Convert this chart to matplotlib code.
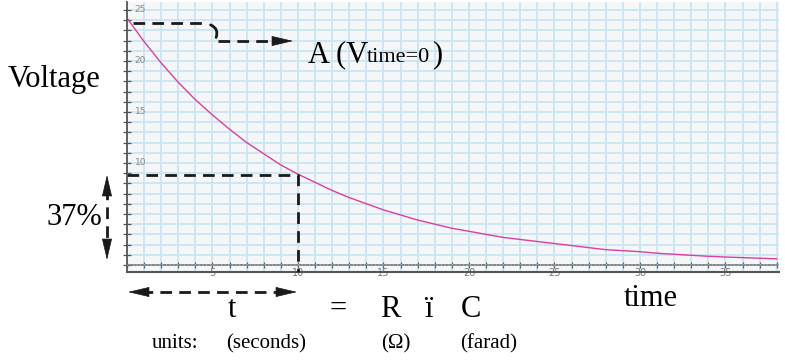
import matplotlib.pyplot as plt
from matplotlib.lines import Line2D
from matplotlib.patches import FancyArrowPatch
import numpy as np

W, H = 785, 360

# voltage, one value per second
time_s = np.arange(0, 39)
voltage = [24.2, 21.9, 19.8, 17.9, 16.2, 14.7, 13.3, 12.0, 10.9, 9.8,
           8.9, 8.1, 7.3, 6.6, 6.0, 5.4, 4.9, 4.4, 4.0, 3.6,
           3.3, 3.0, 2.7, 2.5, 2.3, 2.1, 1.9, 1.7, 1.5, 1.4,
           1.3, 1.15, 1.05, 0.95, 0.85, 0.78, 0.72, 0.66, 0.6]
tau = 10
v_tau = 8.8
x_labels = [5, 10, 15, 20, 25, 30, 35]
y_labels = [10, 15, 20, 25]

GRID = '#cae5f2'
BG = '#f4f6f8'
PINK = '#d8409f'
INK = '#1a1a1a'
DASH = (0, (4.2, 2.6))

plt.rcParams['font.family'] = ['Liberation Serif', 'DejaVu Serif']


def fx(px):
    return px / W


def fy(py):
    return 1 - py / H


fig = plt.figure(figsize=(W / 100, H / 100), dpi=100)
ax = fig.add_axes([fx(127), fy(272), 652 / W, 270 / H])
ax.set_facecolor(BG)
ax.set_xlim(0, 38.13)
ax.set_ylim(-0.69, 25.78)
ax.set_xticks(np.arange(0, 39))
ax.set_xticklabels([str(v) if v in x_labels else '' for v in range(39)])
ax.set_yticks(np.arange(0, 26))
ax.set_yticklabels([])
ax.grid(True, color=GRID, lw=1.3)
ax.set_axisbelow(True)
for s in ['top', 'right']:
    ax.spines[s].set_visible(False)
ax.spines['left'].set_color('#555')
ax.spines['left'].set_linewidth(1.3)
ax.spines['bottom'].set_position(('data', 0))
ax.spines['bottom'].set_linestyle((0, (1, 1.2)))
ax.spines['bottom'].set_color('#777')
ax.spines['bottom'].set_linewidth(1.2)
ax.tick_params(axis='x', direction='inout', length=4, width=0.9, color='#666',
               labelsize=7, labelcolor='#777', pad=0)
ax.tick_params(axis='y', direction='inout', length=6, width=0.9, color='#555')
for lbl in ax.get_xticklabels():
    lbl.set_family('DejaVu Sans')
for v in y_labels:
    ax.text(0.45, v, str(v), fontsize=6.5, color='#888', family='DejaVu Sans',
            va='center', ha='left')
ymin = ax.get_ylim()[0]
ax.axhline(ymin, color='#555', lw=1.5, clip_on=False)

ax.plot(time_s, voltage, color=PINK, lw=1.0)

# time constant marker
ax.plot([0, tau, tau], [v_tau, v_tau, ymin], color=INK, lw=2.0, ls=DASH,
        clip_on=False)


def dline(x0, y0, x1, y1):
    fig.add_artist(Line2D([fx(x0), fx(x1)], [fy(y0), fy(y1)], color=INK,
                          lw=2.0, ls=DASH))


def head(tip, tail):
    fig.add_artist(FancyArrowPatch((fx(tail[0]), fy(tail[1])),
                                   (fx(tip[0]), fy(tip[1])),
                                   transform=fig.transFigure,
                                   arrowstyle='-|>,head_length=1.4,head_width=0.33',
                                   mutation_scale=10, color=INK, lw=0.5,
                                   shrinkA=0, shrinkB=0))


# A (V time=0) pointer
dline(133, 23, 208, 23)
fig.add_artist(FancyArrowPatch((fx(208), fy(24)), (fx(215), fy(40)),
                               transform=fig.transFigure, arrowstyle='-',
                               connectionstyle='arc3,rad=-0.6', color=INK,
                               lw=2.0))
dline(218, 41, 282, 41)
head((293, 41), (281, 41))

# 37% double arrow
dline(107, 188, 107, 248)
head((107, 175), (107, 188))
head((107, 260), (107, 247))

# t double arrow
dline(141, 292, 284, 292)
head((128, 292), (141, 292))
head((297, 292), (284, 292))

fig.text(fx(8), fy(87), 'Voltage', fontsize=22, va='baseline', ha='left')
fig.text(fx(47), fy(225), '37%', fontsize=22, va='baseline', ha='left')
fig.text(fx(308), fy(62), 'A (V', fontsize=22, va='baseline', ha='left')
fig.text(fx(367), fy(62), 'time=0', fontsize=16, va='baseline', ha='left')
fig.text(fx(432), fy(62), ')', fontsize=22, va='baseline', ha='left')
fig.text(fx(651), fy(306), 'time', fontsize=22, va='baseline', ha='center')

for s, x in [('t', 232), ('=', 338), ('R', 390), ('ï', 428), ('C', 471)]:
    fig.text(fx(x), fy(317), s, fontsize=22, va='baseline', ha='center')
for s, x in [('units:', 152), ('(seconds)', 226), ('(Ω)', 381), ('(farad)', 460)]:
    fig.text(fx(x), fy(348), s, fontsize=15, va='baseline', ha='left')

fig.savefig('out.png', dpi=100)
